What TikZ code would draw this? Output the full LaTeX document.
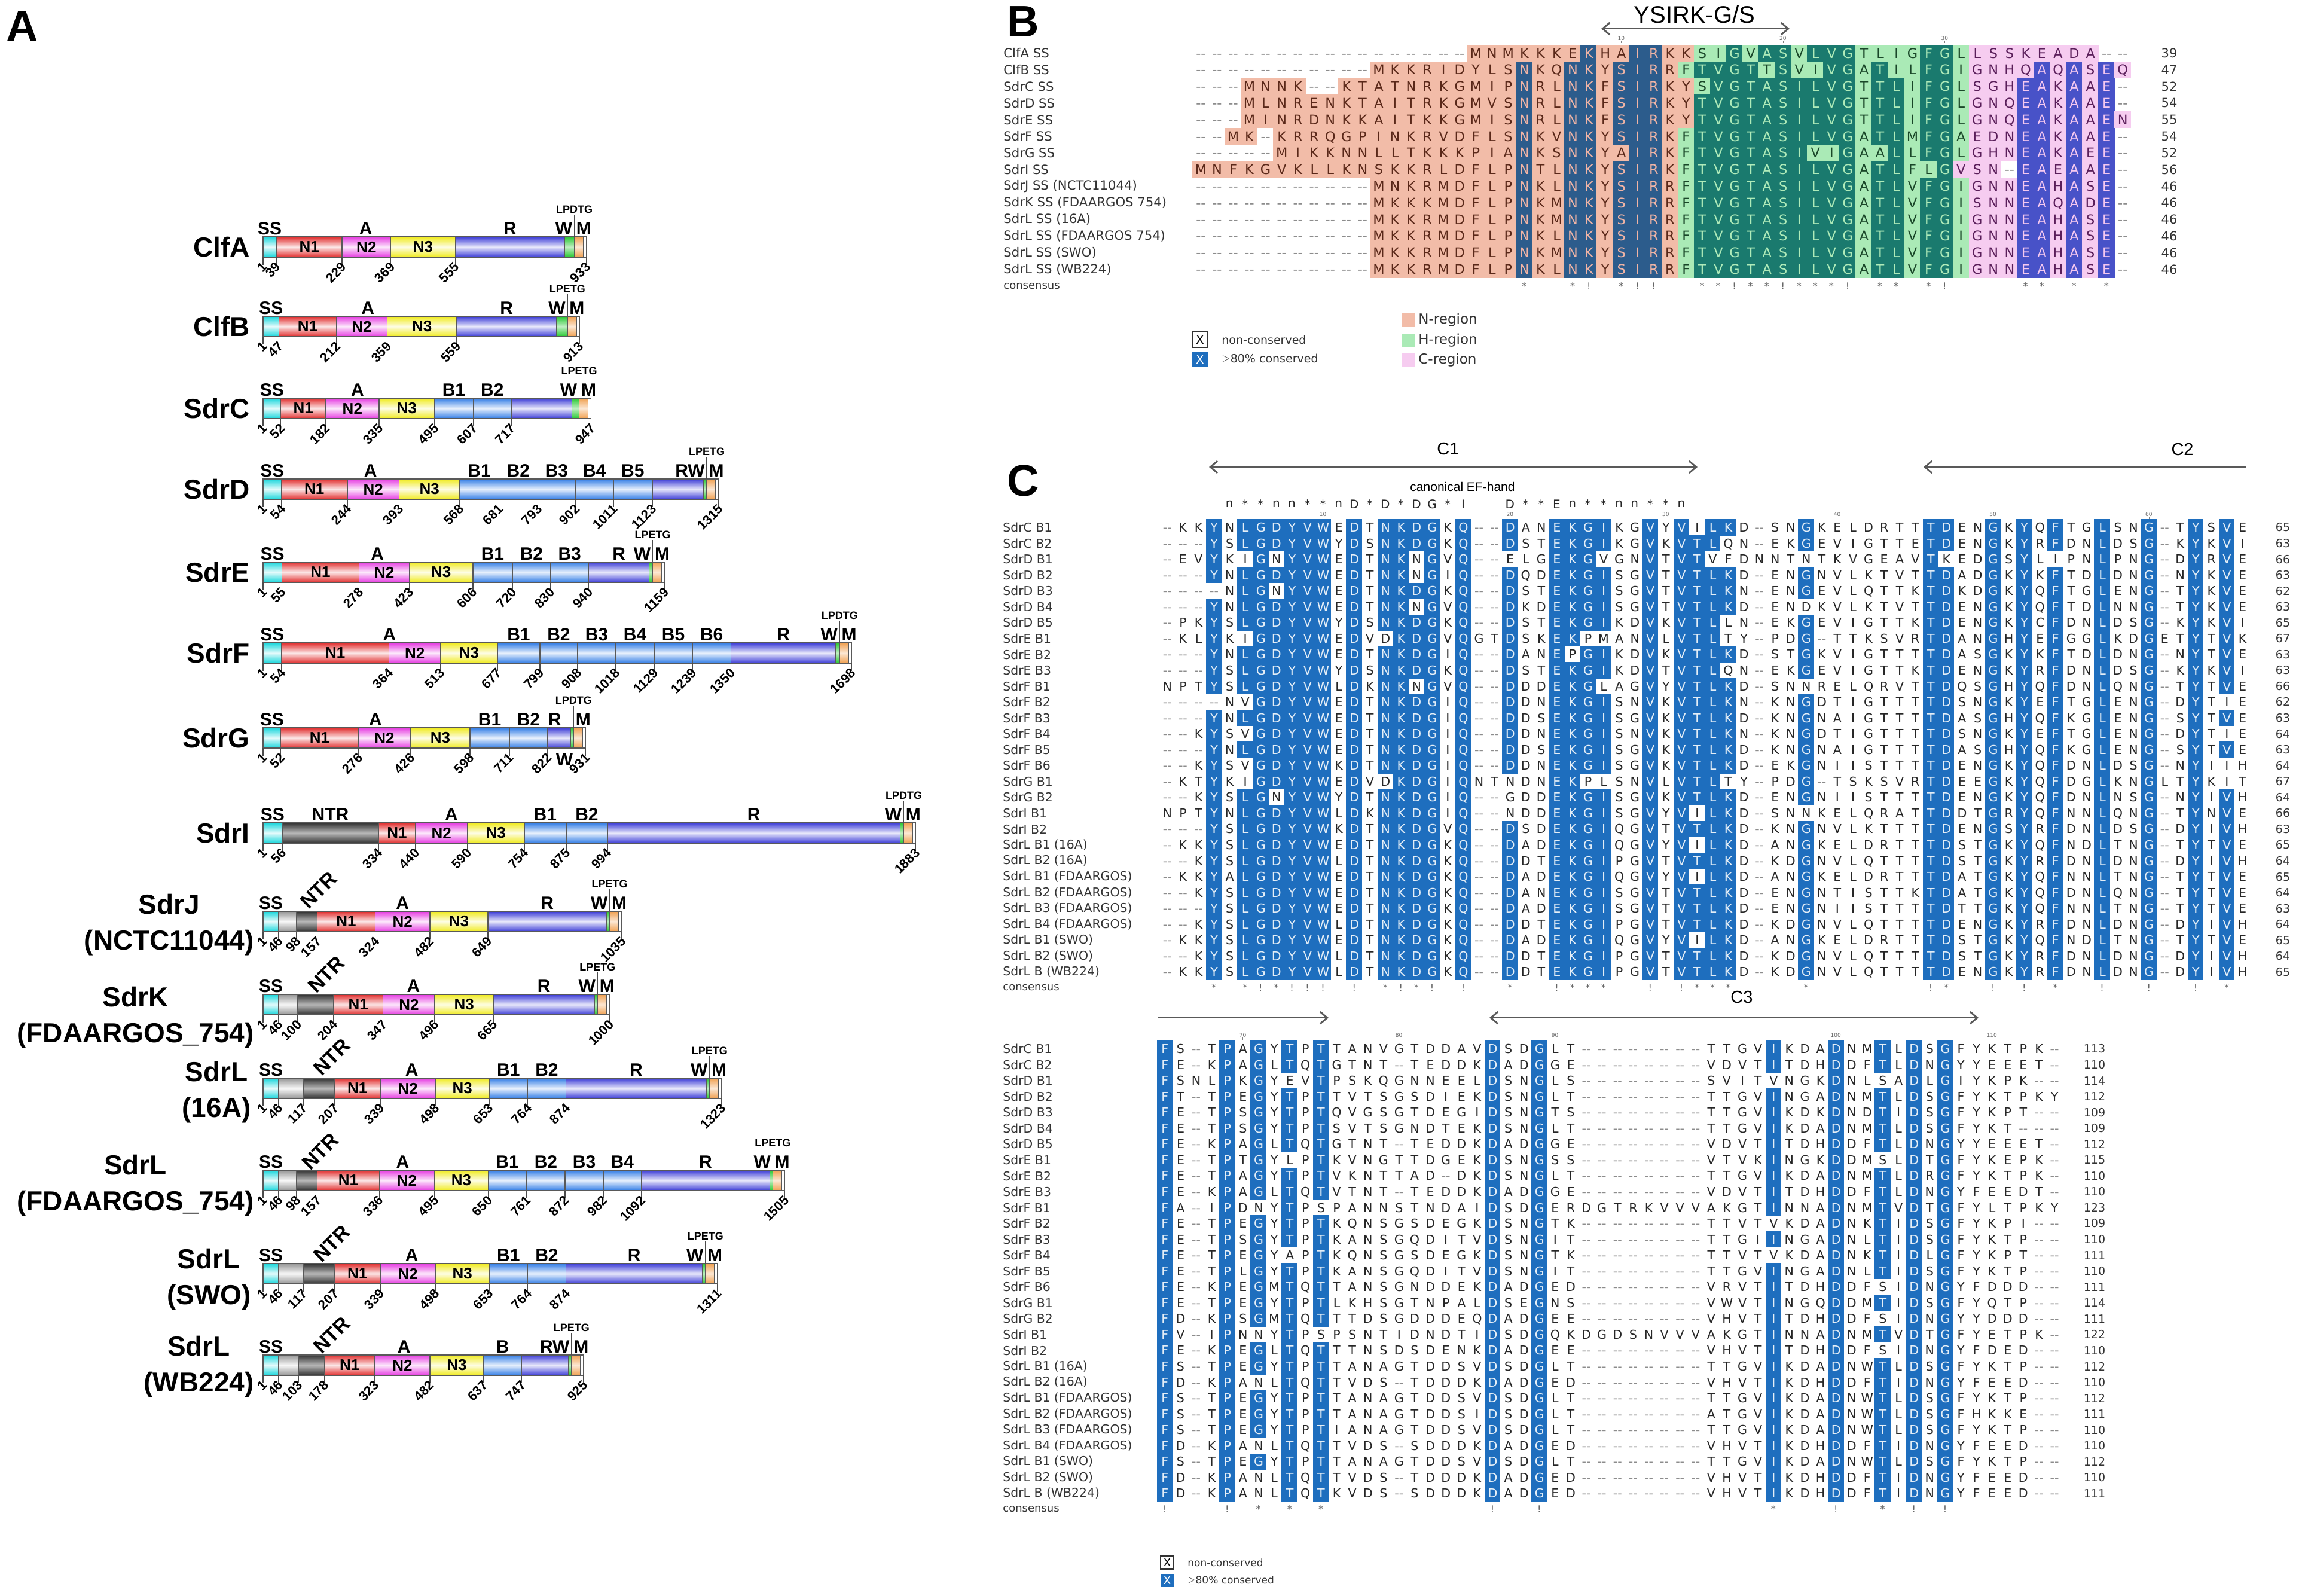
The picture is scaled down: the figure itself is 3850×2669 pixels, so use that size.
\documentclass[tikz,border=0pt]{standalone}
\usepackage{fontspec}
\setmainfont{Liberation Sans}
\newfontfamily\alnfont{DejaVu Sans}
\usetikzlibrary{arrows.meta}

% domain colours (panel A)
\definecolor{ssC}{RGB}{25,215,220}
\definecolor{ntrL}{RGB}{150,150,150}
\definecolor{ntrD}{RGB}{50,50,50}
\definecolor{nOne}{RGB}{225,45,45}
\definecolor{nTwo}{RGB}{230,60,225}
\definecolor{nThree}{RGB}{240,235,30}
\definecolor{bRep}{RGB}{50,125,230}
\definecolor{rRep}{RGB}{60,60,215}
\definecolor{wAnc}{RGB}{40,200,50}
\definecolor{mSpan}{RGB}{240,160,80}
% alignment colours (panels B, C)
\definecolor{cblue}{RGB}{30,110,190}
\colorlet{hiT}{white!88!cblue}
\colorlet{loT}{black!85}
\colorlet{gapT}{black!45}
\definecolor{Nlo}{RGB}{242,188,168}
\definecolor{Nhi}{RGB}{44,92,140}
\definecolor{Hlo}{RGB}{170,234,182}
\definecolor{Hhi}{RGB}{26,122,110}
\definecolor{Clo}{RGB}{246,204,240}
\definecolor{Chi}{RGB}{72,82,200}
\definecolor{NloT}{RGB}{90,40,25}
\definecolor{NhiT}{RGB}{240,180,165}
\definecolor{HloT}{RGB}{25,70,40}
\definecolor{HhiT}{RGB}{175,235,185}
\definecolor{CloT}{RGB}{90,30,90}
\definecolor{ChiT}{RGB}{245,200,240}

\tikzset{
  panel/.style={inner sep=0pt,font=\fontsize{37}{40}\selectfont\bfseries},
  dombox/.style={draw=black!65,line width=0.8pt},
  tickln/.style={draw=black!70,line width=0.8pt},
  ticknum/.style={rotate=45,anchor=east,inner sep=0.5pt,xshift=2pt,yshift=-1pt,font=\fontsize{11}{12}\selectfont\bfseries},
  toplbl/.style={anchor=south,inner sep=0pt,font=\fontsize{15}{16}\selectfont\bfseries},
  inlbl/.style={inner sep=0pt,font=\fontsize{13}{14}\selectfont\bfseries},
  protlbl/.style={anchor=east,align=center,inner sep=0pt,font=\fontsize{23}{30}\selectfont\bfseries},
  motif/.style={anchor=south,inner sep=1pt,font=\fontsize{9}{10}\selectfont\bfseries},
  seqlbl/.style={anchor=west,inner sep=0pt,font=\alnfont\fontsize{10.2}{12}\selectfont,text=black!80},
  seqnum/.style={inner sep=0pt,font=\alnfont\fontsize{9.5}{11}\selectfont,text=black!80},
  cline/.style={anchor=base west,inner sep=0pt,font=\alnfont\fontsize{10.3}{12}\selectfont},
  bline/.style={anchor=base west,inner sep=0pt,font=\alnfont\fontsize{11.2}{13}\selectfont},
  consch/.style={inner sep=0pt,font=\alnfont\fontsize{8}{9}\selectfont,text=black!60},
  rulnum/.style={inner sep=0pt,font=\alnfont\fontsize{4.5}{5}\selectfont,text=black!60},
  efch/.style={inner sep=0pt,font=\alnfont\fontsize{10}{11}\selectfont,text=black!85},
  titlelbl/.style={inner sep=0pt,font=\fontsize{14.5}{16}\selectfont},
  legtxt/.style={anchor=west,inner sep=0pt,font=\alnfont\fontsize{9.5}{11}\selectfont,text=black!80},
  regline/.style={draw=black!65,line width=1.4pt},
  barb/.tip={Straight Barb[length=6pt,width=10pt]}
}

% residue -> x position in panel A
\newcommand\rx[1]{440+0.58*(#1-1)}
% one shaded domain: [mix] y, from, to, colour
\newcommand\domseg[5][12]{\path[dombox,top color=#5,bottom color=#5,middle color=#5!#1!white]
  ({\rx{#3}},{#2-17}) rectangle ({\rx{#4}},{#2+17});}
% R region, W, M and end of the protein
\newcommand\ptail[5]{%
  \path[dombox,top color=rRep,bottom color=rRep,middle color=rRep!12!white] ({\rx{#2}},{#1-17}) rectangle ({\rx{#3}-20-#4},{#1+17});
  \path[dombox,top color=wAnc,bottom color=wAnc,middle color=wAnc!30!white] ({\rx{#3}-20-#4},{#1-17}) rectangle ({\rx{#3}-20},{#1+17});
  \path[dombox,top color=mSpan,bottom color=mSpan,middle color=mSpan!25!white] ({\rx{#3}-20},{#1-17}) rectangle ({\rx{#3}-5},{#1+17});
  \path[dombox,fill=white] ({\rx{#3}-5},{#1-17}) rectangle ({\rx{#3}},{#1+17});
  \draw[tickln] ({\rx{#3}-20},{#1-17}) -- ({\rx{#3}-20},{#1-54}) node[motif] {#5};}
\newcommand\tickmarks[2]{\foreach \rr in {#2}{\draw[tickln] ({\rx{\rr}},{#1+17}) -- ({\rx{\rr}},{#1+30}) node[ticknum] {\rr};}}
\newcommand\toplab[4]{\node[toplbl] at ({(\rx{#2}+\rx{#3})/2},{#1-20}) {#4};}
\newcommand\inlab[4]{\node[inlbl] at ({(\rx{#2}+\rx{#3})/2},{#1}) {#4};}
\newcommand\rlab[4]{\node[toplbl] at ({(\rx{#2}+\rx{#3}-20-#4)/2},{#1-20}) {R};}
\newcommand\wmlab[3]{\node[toplbl,anchor=south east] at ({\rx{#2}-23},{#1-20}) {#3};
  \node[toplbl,anchor=south west] at ({\rx{#2}-17},{#1-20}) {M};}

% alignment rows: shaded cells are filled one by one, letters go in one line per row
\makeatletter
\newcount\alncol
\newtoks\alntoks
\def\aln@cell#1#2{\hbox to \aln@wd{\hss\textcolor{#1}{#2}\hss}}
\def\aln@append#1#2{\alntoks=\expandafter{\the\alntoks\aln@cell{#1}{#2}}}
\newcommand\alnrow[6]{%
  \def\aln@x{#1}\def\aln@y{#2}\def\aln@p{#3}\def\aln@h{#4}\alncol=0 \alntoks={}%
  \dimen@=#3pt \dimen@=0.5\dimen@ \edef\aln@wd{\the\dimen@}%
  \edef\aln@go{\noexpand\aln@step#5\noexpand\@nil#6\noexpand\@nil}\aln@go
  \node[cline] at ({\aln@x-\aln@p/2},{\aln@y+7.5}) {\the\alntoks};}
\def\aln@step#1#2\@nil#3#4\@nil{%
  \advance\alncol by 1
  \if#1-%
    \aln@append{gapT}{--}%
  \else
    \if#1#3%
      \pgfmathsetmacro\aln@cx{\aln@x+(\the\alncol-1)*\aln@p}%
      \fill[cblue] ({\aln@cx-\aln@p/2-0.3},{\aln@y-\aln@h/2-0.3}) rectangle ({\aln@cx+\aln@p/2+0.3},{\aln@y+\aln@h/2+0.3});%
      \aln@append{hiT}{#1}%
    \else
      \aln@append{loT}{#1}%
    \fi
  \fi
  \ifx\relax#2\relax\else\aln@step#2\@nil#4\@nil\fi}
\newcommand\alnBrow[8]{%
  \def\aln@x{#1}\def\aln@y{#2}\def\aln@p{#3}\def\aln@h{#4}\def\aln@H{#7}\def\aln@C{#8}\alncol=0 \alntoks={}%
  \dimen@=#3pt \dimen@=0.5\dimen@ \edef\aln@wd{\the\dimen@}%
  \edef\aln@go{\noexpand\alnB@step#5\noexpand\@nil#6\noexpand\@nil}\aln@go
  \node[bline] at ({\aln@x-\aln@p/2},{\aln@y+8.2}) {\the\alntoks};}
\def\alnB@step#1#2\@nil#3#4\@nil{%
  \advance\alncol by 1
  \ifnum\alncol<\aln@H\relax\def\aln@r{N}\else\ifnum\alncol<\aln@C\relax\def\aln@r{H}\else\def\aln@r{C}\fi\fi
  \if#1-%
    \aln@append{gapT}{--}%
  \else
    \if#1#3\def\aln@k{hi}\else\def\aln@k{lo}\fi
    \edef\aln@fc{\aln@r\aln@k}\edef\aln@tc{\aln@r\aln@k T}%
    \pgfmathsetmacro\aln@cx{\aln@x+(\the\alncol-1)*\aln@p}%
    \fill[fill=\aln@fc] ({\aln@cx-\aln@p/2-0.3},{\aln@y-\aln@h/2-0.3}) rectangle ({\aln@cx+\aln@p/2+0.3},{\aln@y+\aln@h/2+0.3});%
    \expandafter\aln@append\expandafter{\aln@tc}{#1}%
  \fi
  \ifx\relax#2\relax\else\alnB@step#2\@nil#4\@nil\fi}
\makeatother

\def\consB{....................N..NK.SIR..TVGTASILVG.TL.FG....EA.A.E.}
\def\consTop{...Y.LGDYVW.D.NKDG.Q..D..EKGI..V.VTLK....G.......TD..G.Y.F..L..G..Y.V.}
\def\consBot{F...P.G.T.T..........D..G..............I...D..T.D.G.......}

\newcommand\brow[6]{%
  \pgfmathsetmacro\ry{89+(#1-1)*27.8}%
  \node[seqlbl,font=\alnfont\fontsize{10.6}{12}\selectfont] (bl#1) at (1678,{\ry}) {#2};%
  \alnBrow{2008}{\ry}{27.05}{27.8}{#3}{\consB}{#4}{#5}%
  \node[seqnum,font=\alnfont\fontsize{10.5}{12}\selectfont] (bn#1) at (3628,{\ry}) {#6};}
\newcommand\ctop[4]{%
  \pgfmathsetmacro\ry{882+(#1-1)*26.55}%
  \node[seqlbl] (ctl#1) at (1677,{\ry}) {#2};%
  \alnrow{1952}{\ry}{26.06}{26.55}{#3}{\consTop}%
  \node[seqnum] (ctn#1) at (3818,{\ry}) {#4};}
\newcommand\cbot[4]{%
  \pgfmathsetmacro\ry{1754+(#1-1)*26.55}%
  \node[seqlbl] (cbl#1) at (1677,{\ry}) {#2};%
  \alnrow{1948}{\ry}{26.1}{26.55}{#3}{\consBot}%
  \node[seqnum] (cbn#1) at (3503,{\ry}) {#4};}
\newcommand\consmarks[4]{\foreach \ci/\sy in {#4}{\node[consch] at ({#1+(\ci-1)*#3},{#2}) {\sy};}}
\newcommand\colruler[4]{\foreach \ci/\nn in {#4}{\node[rulnum] at ({#1+(\ci-1)*#3},{#2}) {\nn};
  \draw[black!50,line width=0.3pt] ({#1+(\ci-1)*#3},{#2+4}) -- ({#1+(\ci-1)*#3},{#2+8});}}

\begin{document}
\begin{tikzpicture}[x=0.5pt,y=-0.5pt]
\fill[white] (0,0) rectangle (3850,2669);
\useasboundingbox (0,0) rectangle (3850,2669);

%% ================= A: domain organisation =================
\node[panel] (pA) at (37,44) {A};

% ClfA
\def\yc{413}
\domseg{\yc}{1}{39}{ssC}\domseg{\yc}{39}{229}{nOne}\domseg{\yc}{229}{369}{nTwo}\domseg{\yc}{369}{555}{nThree}
\ptail{\yc}{555}{933}{16}{LPDTG}
\tickmarks{\yc}{1,39,229,369,555,933}
\inlab{\yc}{39}{229}{N1}\inlab{\yc}{229}{369}{N2}\inlab{\yc}{369}{555}{N3}
\toplab{\yc}{1}{39}{SS}\toplab{\yc}{39}{555}{A}\rlab{\yc}{555}{933}{16}\wmlab{\yc}{933}{W}
\node[protlbl] (clfa) at (418,\yc) {ClfA};

% ClfB
\def\yc{546}
\domseg{\yc}{1}{47}{ssC}\domseg{\yc}{47}{212}{nOne}\domseg{\yc}{212}{359}{nTwo}\domseg{\yc}{359}{559}{nThree}
\ptail{\yc}{559}{913}{18}{LPETG}
\tickmarks{\yc}{1,47,212,359,559,913}
\inlab{\yc}{47}{212}{N1}\inlab{\yc}{212}{359}{N2}\inlab{\yc}{359}{559}{N3}
\toplab{\yc}{1}{47}{SS}\toplab{\yc}{47}{559}{A}\rlab{\yc}{559}{913}{18}\wmlab{\yc}{913}{W}
\node[protlbl] (clfb) at (418,\yc) {ClfB};

% SdrC
\def\yc{683}
\domseg{\yc}{1}{52}{ssC}\domseg{\yc}{52}{182}{nOne}\domseg{\yc}{182}{335}{nTwo}\domseg{\yc}{335}{495}{nThree}
\foreach \a/\b/\t in {495/607/B1,607/717/B2}{\domseg{\yc}{\a}{\b}{bRep}\toplab{\yc}{\a}{\b}{\t}}
\ptail{\yc}{717}{947}{12}{LPETG}
\tickmarks{\yc}{1,52,182,335,495,607,717,947}
\inlab{\yc}{52}{182}{N1}\inlab{\yc}{182}{335}{N2}\inlab{\yc}{335}{495}{N3}
\toplab{\yc}{1}{52}{SS}\toplab{\yc}{52}{495}{A}\wmlab{\yc}{947}{W}
\node[protlbl] (sdrc) at (418,\yc) {SdrC};

% SdrD
\def\yc{818}
\domseg{\yc}{1}{54}{ssC}\domseg{\yc}{54}{244}{nOne}\domseg{\yc}{244}{393}{nTwo}\domseg{\yc}{393}{568}{nThree}
\foreach \a/\b/\t in {568/681/B1,681/793/B2,793/902/B3,902/1011/B4,1011/1123/B5}{\domseg{\yc}{\a}{\b}{bRep}\toplab{\yc}{\a}{\b}{\t}}
\ptail{\yc}{1123}{1315}{6}{LPETG}
\tickmarks{\yc}{1,54,244,393,568,681,793,902,1011,1123,1315}
\inlab{\yc}{54}{244}{N1}\inlab{\yc}{244}{393}{N2}\inlab{\yc}{393}{568}{N3}
\toplab{\yc}{1}{54}{SS}\toplab{\yc}{54}{568}{A}\wmlab{\yc}{1315}{RW}
\node[protlbl] (sdrd) at (418,\yc) {SdrD};

% SdrE
\def\yc{957}
\domseg{\yc}{1}{55}{ssC}\domseg{\yc}{55}{278}{nOne}\domseg{\yc}{278}{423}{nTwo}\domseg{\yc}{423}{606}{nThree}
\foreach \a/\b/\t in {606/720/B1,720/830/B2,830/940/B3}{\domseg{\yc}{\a}{\b}{bRep}\toplab{\yc}{\a}{\b}{\t}}
\ptail{\yc}{940}{1159}{6}{LPETG}
\tickmarks{\yc}{1,55,278,423,606,720,830,940,1159}
\inlab{\yc}{55}{278}{N1}\inlab{\yc}{278}{423}{N2}\inlab{\yc}{423}{606}{N3}
\toplab{\yc}{1}{55}{SS}\toplab{\yc}{55}{606}{A}\rlab{\yc}{940}{1159}{6}\wmlab{\yc}{1159}{W}
\node[protlbl] (sdre) at (418,\yc) {SdrE};

% SdrF
\def\yc{1092}
\domseg{\yc}{1}{54}{ssC}\domseg{\yc}{54}{364}{nOne}\domseg{\yc}{364}{513}{nTwo}\domseg{\yc}{513}{677}{nThree}
\foreach \a/\b/\t in {677/799/B1,799/908/B2,908/1018/B3,1018/1129/B4,1129/1239/B5,1239/1350/B6}{\domseg{\yc}{\a}{\b}{bRep}\toplab{\yc}{\a}{\b}{\t}}
\ptail{\yc}{1350}{1698}{6}{LPDTG}
\tickmarks{\yc}{1,54,364,513,677,799,908,1018,1129,1239,1350,1698}
\inlab{\yc}{54}{364}{N1}\inlab{\yc}{364}{513}{N2}\inlab{\yc}{513}{677}{N3}
\toplab{\yc}{1}{54}{SS}\toplab{\yc}{54}{677}{A}\rlab{\yc}{1350}{1698}{6}\wmlab{\yc}{1698}{W}
\node[protlbl] (sdrf) at (418,\yc) {SdrF};

% SdrG
\def\yc{1234}
\domseg{\yc}{1}{52}{ssC}\domseg{\yc}{52}{276}{nOne}\domseg{\yc}{276}{426}{nTwo}\domseg{\yc}{426}{598}{nThree}
\foreach \a/\b/\t in {598/711/B1,711/822/B2}{\domseg{\yc}{\a}{\b}{bRep}\toplab{\yc}{\a}{\b}{\t}}
\ptail{\yc}{822}{931}{5}{LPDTG}
\tickmarks{\yc}{1,52,276,426,598,711,822,931}
\inlab{\yc}{52}{276}{N1}\inlab{\yc}{276}{426}{N2}\inlab{\yc}{426}{598}{N3}
\toplab{\yc}{1}{52}{SS}\toplab{\yc}{52}{598}{A}
\node[toplbl,anchor=south] (sdrgr) at (928,{\yc-20}) {R};
\node[toplbl,anchor=south west] (sdrgm) at ({\rx{931}-17},{\yc-20}) {M};
\node[toplbl,anchor=center] (sdrgw) at (944,{\yc+36}) {W};
\node[protlbl] (sdrg) at (418,\yc) {SdrG};

% SdrI
\def\yc{1393}
\domseg{\yc}{1}{56}{ssC}\domseg[35]{\yc}{56}{334}{ntrD}\domseg{\yc}{334}{440}{nOne}\domseg{\yc}{440}{590}{nTwo}\domseg{\yc}{590}{754}{nThree}
\foreach \a/\b/\t in {754/875/B1,875/994/B2}{\domseg{\yc}{\a}{\b}{bRep}\toplab{\yc}{\a}{\b}{\t}}
\ptail{\yc}{994}{1883}{6}{LPDTG}
\tickmarks{\yc}{1,56,334,440,590,754,875,994,1883}
\inlab{\yc}{334}{440}{N1}\inlab{\yc}{440}{590}{N2}\inlab{\yc}{590}{754}{N3}
\toplab{\yc}{1}{56}{SS}\toplab{\yc}{56}{334}{NTR}\toplab{\yc}{334}{754}{A}\rlab{\yc}{994}{1883}{6}\wmlab{\yc}{1883}{W}
\node[protlbl] (sdri) at (418,\yc) {SdrI};

% SdrJ
\def\yc{1541}
\domseg{\yc}{1}{46}{ssC}\domseg[8]{\yc}{46}{98}{ntrL}\domseg[35]{\yc}{98}{157}{ntrD}
\domseg{\yc}{157}{324}{nOne}\domseg{\yc}{324}{482}{nTwo}\domseg{\yc}{482}{649}{nThree}
\ptail{\yc}{649}{1035}{5}{LPETG}
\tickmarks{\yc}{1,46,98,157,324,482,649,1035}
\inlab{\yc}{157}{324}{N1}\inlab{\yc}{324}{482}{N2}\inlab{\yc}{482}{649}{N3}
\toplab{\yc}{1}{46}{SS}\toplab{\yc}{157}{649}{A}\rlab{\yc}{649}{1035}{5}\wmlab{\yc}{1035}{W}
\node[toplbl,anchor=center,rotate=45,font=\fontsize{17}{18}\selectfont\bfseries] (sdrjn) at (533,{\yc-52}) {NTR};
\node[protlbl] (sdrj) at (425,{\yc+6}) {SdrJ\\(NCTC11044)};

% SdrK
\def\yc{1680}
\domseg{\yc}{1}{46}{ssC}\domseg[8]{\yc}{46}{100}{ntrL}\domseg[35]{\yc}{100}{204}{ntrD}
\domseg{\yc}{204}{347}{nOne}\domseg{\yc}{347}{496}{nTwo}\domseg{\yc}{496}{665}{nThree}
\ptail{\yc}{665}{1000}{5}{LPETG}
\tickmarks{\yc}{1,46,100,204,347,496,665,1000}
\inlab{\yc}{204}{347}{N1}\inlab{\yc}{347}{496}{N2}\inlab{\yc}{496}{665}{N3}
\toplab{\yc}{1}{46}{SS}\toplab{\yc}{204}{665}{A}\rlab{\yc}{665}{1000}{5}\wmlab{\yc}{1000}{W}
\node[toplbl,anchor=center,rotate=45,font=\fontsize{17}{18}\selectfont\bfseries] (sdrkn) at (546,{\yc-50}) {NTR};
\node[protlbl] (sdrk) at (425,{\yc+22}) {SdrK\\(FDAARGOS\_754)};

% SdrL (16A)
\def\yc{1820}
\domseg{\yc}{1}{46}{ssC}\domseg[8]{\yc}{46}{117}{ntrL}\domseg[35]{\yc}{117}{207}{ntrD}
\domseg{\yc}{207}{339}{nOne}\domseg{\yc}{339}{498}{nTwo}\domseg{\yc}{498}{653}{nThree}
\foreach \a/\b/\t in {653/764/B1,764/874/B2}{\domseg{\yc}{\a}{\b}{bRep}\toplab{\yc}{\a}{\b}{\t}}
\ptail{\yc}{874}{1323}{5}{LPETG}
\tickmarks{\yc}{1,46,117,207,339,498,653,764,874,1323}
\inlab{\yc}{207}{339}{N1}\inlab{\yc}{339}{498}{N2}\inlab{\yc}{498}{653}{N3}
\toplab{\yc}{1}{46}{SS}\toplab{\yc}{207}{653}{A}\rlab{\yc}{874}{1323}{5}\wmlab{\yc}{1323}{W}
\node[toplbl,anchor=center,rotate=45,font=\fontsize{17}{18}\selectfont\bfseries] (sdrlan) at (555,{\yc-52}) {NTR};
\node[protlbl] (sdrla) at (420,{\yc+7}) {SdrL\\(16A)};

% SdrL (FDAARGOS_754)
\def\yc{1974}
\domseg{\yc}{1}{46}{ssC}\domseg[8]{\yc}{46}{98}{ntrL}\domseg[35]{\yc}{98}{157}{ntrD}
\domseg{\yc}{157}{336}{nOne}\domseg{\yc}{336}{495}{nTwo}\domseg{\yc}{495}{650}{nThree}
\foreach \a/\b/\t in {650/761/B1,761/872/B2,872/982/B3,982/1092/B4}{\domseg{\yc}{\a}{\b}{bRep}\toplab{\yc}{\a}{\b}{\t}}
\ptail{\yc}{1092}{1505}{5}{LPETG}
\tickmarks{\yc}{1,46,98,157,336,495,650,761,872,982,1092,1505}
\inlab{\yc}{157}{336}{N1}\inlab{\yc}{336}{495}{N2}\inlab{\yc}{495}{650}{N3}
\toplab{\yc}{1}{46}{SS}\toplab{\yc}{157}{650}{A}\rlab{\yc}{1092}{1505}{5}\wmlab{\yc}{1505}{W}
\node[toplbl,anchor=center,rotate=45,font=\fontsize{17}{18}\selectfont\bfseries] (sdrlbn) at (536,{\yc-48}) {NTR};
\node[protlbl] (sdrlb) at (425,{\yc+9}) {SdrL\\(FDAARGOS\_754)};

% SdrL (SWO)
\def\yc{2130}
\domseg{\yc}{1}{46}{ssC}\domseg[8]{\yc}{46}{117}{ntrL}\domseg[35]{\yc}{117}{207}{ntrD}
\domseg{\yc}{207}{339}{nOne}\domseg{\yc}{339}{498}{nTwo}\domseg{\yc}{498}{653}{nThree}
\foreach \a/\b/\t in {653/764/B1,764/874/B2}{\domseg{\yc}{\a}{\b}{bRep}\toplab{\yc}{\a}{\b}{\t}}
\ptail{\yc}{874}{1311}{5}{LPETG}
\tickmarks{\yc}{1,46,117,207,339,498,653,764,874,1311}
\inlab{\yc}{207}{339}{N1}\inlab{\yc}{339}{498}{N2}\inlab{\yc}{498}{653}{N3}
\toplab{\yc}{1}{46}{SS}\toplab{\yc}{207}{653}{A}\rlab{\yc}{874}{1311}{5}\wmlab{\yc}{1311}{W}
\node[toplbl,anchor=center,rotate=45,font=\fontsize{17}{18}\selectfont\bfseries] (sdrlcn) at (555,{\yc-50}) {NTR};
\node[protlbl] (sdrlc) at (420,{\yc+10}) {SdrL\\(SWO)};

% SdrL (WB224)
\def\yc{2283}
\domseg{\yc}{1}{46}{ssC}\domseg[8]{\yc}{46}{103}{ntrL}\domseg[35]{\yc}{103}{178}{ntrD}
\domseg{\yc}{178}{323}{nOne}\domseg{\yc}{323}{482}{nTwo}\domseg{\yc}{482}{637}{nThree}
\domseg{\yc}{637}{747}{bRep}\toplab{\yc}{637}{747}{B}
\ptail{\yc}{747}{925}{5}{LPETG}
\tickmarks{\yc}{1,46,103,178,323,482,637,747,925}
\inlab{\yc}{178}{323}{N1}\inlab{\yc}{323}{482}{N2}\inlab{\yc}{482}{637}{N3}
\toplab{\yc}{1}{46}{SS}\toplab{\yc}{178}{637}{A}\wmlab{\yc}{925}{RW}
\node[toplbl,anchor=center,rotate=45,font=\fontsize{17}{18}\selectfont\bfseries] (sdrldn) at (555,{\yc-50}) {NTR};
\node[protlbl] (sdrld) at (425,{\yc+3}) {SdrL\\(WB224)};

%% ================= B: signal sequences =================
\node[panel] (pB) at (1711,36) {B};
\node[titlelbl,font=\fontsize{20}{22}\selectfont] (ysirk) at (2834,24) {YSIRK-G/S};
\coordinate (ysl) at (2678,48);
\coordinate (ysr) at (2993,48);
\draw[regline,barb-barb] (ysl) -- (ysr);
\colruler{2008}{64}{27.05}{27/10,37/20,47/30}

\brow{1}{ClfA SS}{-----------------MNMKKKEKHAIRKKSIGVASVLVGTLIGFGLLSSKEADA--}{32}{49}{39}
\brow{2}{ClfB SS}{-----------MKKRIDYLSNKQNKYSIRRFTVGTTSVIVGATILFGIGNHQAQASEQ}{31}{49}{47}
\brow{3}{SdrC SS}{---MNNK--KTATNRKGMIPNRLNKFSIRKYSVGTASILVGTTLIFGLSGHEAKAAE-}{32}{49}{52}
\brow{4}{SdrD SS}{---MLNRENKTAITRKGMVSNRLNKFSIRKYTVGTASILVGTTLIFGLGNQEAKAAE-}{32}{49}{54}
\brow{5}{SdrE SS}{---MINRDNKKAITKKGMISNRLNKFSIRKYTVGTASILVGTTLIFGLGNQEAKAAEN}{32}{49}{55}
\brow{6}{SdrF SS}{--MK-KRRQGPINKRVDFLSNKVNKYSIRKFTVGTASILVGATLMFGAEDNEAKAAE-}{31}{49}{54}
\brow{7}{SdrG SS}{-----MIKKNNLLTKKKPIANKSNKYAIRKFTVGTASIVIGAALLFGLGHNEAKAEE-}{31}{49}{52}
\brow{8}{SdrI SS}{MNFKGVKLLKNSKKRLDFLPNTLNKYSIRKFTVGTASILVGATLFLGVSN-EAEAAE-}{31}{48}{56}
\brow{9}{SdrJ SS (NCTC11044)}{-----------MNKRMDFLPNKLNKYSIRRFTVGTASILVGATLVFGIGNNEAHASE-}{31}{49}{46}
\brow{10}{SdrK SS (FDAARGOS 754)}{-----------MKKKMDFLPNKMNKYSIRRFTVGTASILVGATLVFGISNNEAQADE-}{31}{49}{46}
\brow{11}{SdrL SS (16A)}{-----------MKKRMDFLPNKMNKYSIRRFTVGTASILVGATLVFGIGNNEAHASE-}{31}{49}{46}
\brow{12}{SdrL SS (FDAARGOS 754)}{-----------MKKRMDFLPNKLNKYSIRRFTVGTASILVGATLVFGIGNNEAHASE-}{31}{49}{46}
\brow{13}{SdrL SS (SWO)}{-----------MKKRMDFLPNKMNKYSIRRFTVGTASILVGATLVFGIGNNEAHASE-}{31}{49}{46}
\brow{14}{SdrL SS (WB224)}{-----------MKKRMDFLPNKLNKYSIRRFTVGTASILVGATLVFGIGNNEAHASE-}{31}{49}{46}
\node[seqlbl,font=\alnfont\fontsize{9}{10}\selectfont] (bcons) at (1678,479) {consensus};
\consmarks{2008}{479}{27.05}{21/*,24/*,25/!,27/*,28/!,29/!,32/*,33/*,34/!,35/*,36/*,37/!,38/*,39/*,40/*,41/!,43/*,44/*,46/*,47/!,52/*,53/*,55/*,57/*}

% legend B
\node[draw=black!80,line width=0.6pt,fill=white,minimum width=13pt,minimum height=13pt,inner sep=0pt,font=\alnfont\fontsize{10}{11}\selectfont] (bkx1) at (2007,568) {X};
\node[fill=cblue,minimum width=13pt,minimum height=13pt,inner sep=0pt,text=white,font=\alnfont\fontsize{10}{11}\selectfont] (bkx2) at (2007,601) {X};
\node[legtxt] (bkt1) at (2043,568) {non-conserved};
\node[legtxt] (bkt2) at (2043,601) {$\geq$80\% conserved};
\fill[Nlo] (2344,524) rectangle (2366,547);
\fill[Hlo] (2344,558) rectangle (2366,580);
\fill[Clo] (2344,591) rectangle (2366,613);
\node[legtxt,font=\alnfont\fontsize{11.5}{13}\selectfont] (regn) at (2372,535) {N-region};
\node[legtxt,font=\alnfont\fontsize{11.5}{13}\selectfont] (regh) at (2372,569) {H-region};
\node[legtxt,font=\alnfont\fontsize{11.5}{13}\selectfont] (regc) at (2372,602) {C-region};

%% ================= C: B-repeat alignment =================
\node[panel] (pC) at (1711,804) {C};
\node[titlelbl] (tc1) at (2422,751) {C1};
\node[titlelbl] (tc2) at (3650,752) {C2};
\node[titlelbl] (tc3) at (2913,1668) {C3};
\coordinate (c1l) at (2022,781); \coordinate (c1r) at (2839,781);
\coordinate (c2l) at (3217,781); \coordinate (c2r) at (3756,781);
\coordinate (c2bl) at (1936,1702); \coordinate (c2br) at (2222,1702);
\coordinate (c3l) at (2491,1702); \coordinate (c3r) at (3309,1702);
\draw[regline,barb-barb] (c1l) -- (c1r);
\draw[regline,barb-] (c2l) -- (c2r);
\draw[regline,-barb] (c2bl) -- (c2br);
\draw[regline,barb-barb] (c3l) -- (c3r);
\node[titlelbl,font=\fontsize{10.5}{12}\selectfont] (efh) at (2446,814) {canonical EF-hand};
\foreach \ci/\sy in {5/n,6/*,7/*,8/n,9/n,10/*,11/*,12/n,13/D,14/*,15/D,16/*,17/D,18/G,19/*,20/I,23/D,24/*,25/*,26/E,27/n,28/*,29/*,30/n,31/n,32/*,33/*,34/n}
  {\node[efch] at ({1952+(\ci-1)*26.06},843) {\sy};}
\colruler{1952}{860}{26.06}{11/10,23/20,33/30,44/40,54/50,64/60}

\ctop{1}{SdrC B1}{-KKYNLGDYVWEDTNKDGKQ--DANEKGIKGVYVILKD-SNGKELDRTTTDENGKYQFTGLSNG-TYSVE}{65}
\ctop{2}{SdrC B2}{---YSLGDYVWYDSNKDGKQ--DSTEKGIKGVKVTLQN-EKGEVIGTTETDENGKYRFDNLDSG-KYKVI}{63}
\ctop{3}{SdrD B1}{-EVYKIGNYVWEDTNKNGVQ--ELGEKGVGNVTVTVFDNNTNTKVGEAVTKEDGSYLIPNLPNG-DYRVE}{66}
\ctop{4}{SdrD B2}{---YNLGDYVWEDTNKNGIQ--DQDEKGISGVTVTLKD-ENGNVLKTVTTDADGKYKFTDLDNG-NYKVE}{63}
\ctop{5}{SdrD B3}{----NLGNYVWEDTNKDGKQ--DSTEKGISGVTVTLKN-ENGEVLQTTKTDKDGKYQFTGLENG-TYKVE}{62}
\ctop{6}{SdrD B4}{---YNLGDYVWEDTNKNGVQ--DKDEKGISGVTVTLKD-ENDKVLKTVTTDENGKYQFTDLNNG-TYKVE}{63}
\ctop{7}{SdrD B5}{-PKYSLGDYVWYDSNKDGKQ--DSTEKGIKDVKVTLLN-EKGEVIGTTKTDENGKYCFDNLDSG-KYKVI}{65}
\ctop{8}{SdrE B1}{-KLYKIGDYVWEDVDKDGVQGTDSKEKPMANVLVTLTY-PDG-TTKSVRTDANGHYEFGGLKDGETYTVK}{67}
\ctop{9}{SdrE B2}{---YNLGDYVWEDTNKDGIQ--DANEPGIKDVKVTLKD-STGKVIGTTTTDASGKYKFTDLDNG-NYTVE}{63}
\ctop{10}{SdrE B3}{---YSLGDYVWYDSNKDGKQ--DSTEKGIKDVTVTLQN-EKGEVIGTTKTDENGKYRFDNLDSG-KYKVI}{63}
\ctop{11}{SdrF B1}{NPTYSLGDYVWLDKNKNGVQ--DDDEKGLAGVYVTLKD-SNNRELQRVTTDQSGHYQFDNLQNG-TYTVE}{66}
\ctop{12}{SdrF B2}{----NVGDYVWEDTNKDGIQ--DDNEKGISNVKVTLKN-KNGDTIGTTTTDSNGKYEFTGLENG-DYTIE}{62}
\ctop{13}{SdrF B3}{---YNLGDYVWEDTNKDGIQ--DDSEKGISGVKVTLKD-KNGNAIGTTTTDASGHYQFKGLENG-SYTVE}{63}
\ctop{14}{SdrF B4}{--KYSVGDYVWEDTNKDGIQ--DDNEKGISNVKVTLKN-KNGDTIGTTTTDSNGKYEFTGLENG-DYTIE}{64}
\ctop{15}{SdrF B5}{---YNLGDYVWEDTNKDGIQ--DDSEKGISGVKVTLKD-KNGNAIGTTTTDASGHYQFKGLENG-SYTVE}{63}
\ctop{16}{SdrF B6}{--KYSVGDYVWKDTNKDGIQ--DDNEKGISGVKVTLKD-EKGNIISTTTTDENGKYQFDNLDSG-NYIIH}{64}
\ctop{17}{SdrG B1}{-KTYKIGDYVWEDVDKDGIQNTNDNEKPLSNVLVTLTY-PDG-TSKSVRTDEEGKYQFDGLKNGLTYKIT}{67}
\ctop{18}{SdrG B2}{--KYSLGNYVWYDTNKDGIQ--GDDEKGISGVKVTLKD-ENGNIISTTTTDENGKYQFDNLNSG-NYIVH}{64}
\ctop{19}{SdrI B1}{NPTYNLGDYVWLDKNKDGIQ--NDDEKGISGVYVILKD-SNNKELQRATTDDTGRYQFNNLQNG-TYNVE}{66}
\ctop{20}{SdrI B2}{---YSLGDYVWKDTNKDGVQ--DSDEKGIQGVTVTLKD-KNGNVLKTTTTDENGSYRFDNLDSG-DYIVH}{63}
\ctop{21}{SdrL B1 (16A)}{-KKYSLGDYVWEDTNKDGKQ--DADEKGIQGVYVILKD-ANGKELDRTTTDSTGKYQFNDLTNG-TYTVE}{65}
\ctop{22}{SdrL B2 (16A)}{--KYSLGDYVWLDTNKDGKQ--DDTEKGIPGVTVTLKD-KDGNVLQTTTTDSTGKYRFDNLDNG-DYIVH}{64}
\ctop{23}{SdrL B1 (FDAARGOS)}{-KKYALGDYVWEDTNKDGKQ--DADEKGIQGVYVILKD-ANGKELDRTTTDATGKYQFNNLTNG-TYTVE}{65}
\ctop{24}{SdrL B2 (FDAARGOS)}{--KYSLGDYVWEDTNKDGKQ--DANEKGISGVTVTLKD-ENGNTISTTKTDATGKYQFDNLQNG-TYTVE}{64}
\ctop{25}{SdrL B3 (FDAARGOS)}{---YSLGDYVWEDTNKDGKQ--DADEKGISGVTVTLKD-ENGNIISTTTTDTTGKYQFNNLTNG-TYTVE}{63}
\ctop{26}{SdrL B4 (FDAARGOS)}{--KYSLGDYVWLDTNKDGKQ--DDTEKGIPGVTVTLKD-KDGNVLQTTTTDENGKYRFDNLDNG-DYIVH}{64}
\ctop{27}{SdrL B1 (SWO)}{-KKYSLGDYVWEDTNKDGKQ--DADEKGIQGVYVILKD-ANGKELDRTTTDSTGKYQFNDLTNG-TYTVE}{65}
\ctop{28}{SdrL B2 (SWO)}{--KYSLGDYVWLDTNKDGKQ--DDTEKGIPGVTVTLKD-KDGNVLQTTTTDSTGKYRFDNLDNG-DYIVH}{64}
\ctop{29}{SdrL B (WB224)}{-KKYSLGDYVWLDTNKDGKQ--DDTEKGIPGVTVTLKD-KDGNVLQTTTTDENGKYRFDNLDNG-DYIVH}{65}
\node[seqlbl,font=\alnfont\fontsize{9}{10}\selectfont] (ctcons) at (1677,1652) {consensus};
\consmarks{1952}{1652}{26.06}{4/*,6/*,7/!,8/*,9/!,10/!,11/!,13/!,15/*,16/!,17/*,18/!,20/!,23/*,26/!,27/*,28/*,29/*,32/!,34/!,35/*,36/*,37/*,42/*,50/!,51/*,54/!,56/!,58/*,61/!,64/!,67/!,69/*}

% second block
\colruler{1948}{1731}{26.1}{6/70,16/80,26/90,44/100,54/110}
\cbot{1}{SdrC B1}{FS-TPAGYTPTTANVGTDDAVDSDGLT--------TTGVIKDADNMTLDSGFYKTPK-}{113}
\cbot{2}{SdrC B2}{FE-KPAGLTQTGTNT-TEDDKDADGGE--------VDVTITDHDDFTLDNGYYEEET-}{110}
\cbot{3}{SdrD B1}{FSNLPKGYEVTPSKQGNNEELDSNGLS--------SVITVNGKDNLSADLGIYKPK--}{114}
\cbot{4}{SdrD B2}{FT-TPEGYTPTTVTSGSDIEKDSNGLT--------TTGVINGADNMTLDSGFYKTPKY}{112}
\cbot{5}{SdrD B3}{FE-TPSGYTPTQVGSGTDEGIDSNGTS--------TTGVIKDKDNDTIDSGFYKPT--}{109}
\cbot{6}{SdrD B4}{FE-TPSGYTPTSVTSGNDTEKDSNGLT--------TTGVIKDADNMTLDSGFYKT---}{109}
\cbot{7}{SdrD B5}{FE-KPAGLTQTGTNT-TEDDKDADGGE--------VDVTITDHDDFTLDNGYYEEET-}{112}
\cbot{8}{SdrE B1}{FE-TPTGYLPTKVNGTTDGEKDSNGSS--------VTVKINGKDDMSLDTGFYKEPK-}{115}
\cbot{9}{SdrE B2}{FE-TPAGYTPTVKNTTAD-DKDSNGLT--------TTGVIKDADNMTLDRGFYKTPK-}{110}
\cbot{10}{SdrE B3}{FE-KPAGLTQTVTNT-TEDDKDADGGE--------VDVTITDHDDFTLDNGYFEEDT-}{110}
\cbot{11}{SdrF B1}{FA-IPDNYTPSPANNSTNDAIDSDGERDGTRKVVVAKGTINNADNMTVDTGFYLTPKY}{123}
\cbot{12}{SdrF B2}{FE-TPEGYTPTKQNSGSDEGKDSNGTK--------TTVTVKDADNKTIDSGFYKPI--}{109}
\cbot{13}{SdrF B3}{FE-TPSGYTPTKANSGQDITVDSNGIT--------TTGIINGADNLTIDSGFYKTP--}{110}
\cbot{14}{SdrF B4}{FE-TPEGYAPTKQNSGSDEGKDSNGTK--------TTVTVKDADNKTIDLGFYKPT--}{111}
\cbot{15}{SdrF B5}{FE-TPLGYTPTKANSGQDITVDSNGIT--------TTGVINGADNLTIDSGFYKTP--}{110}
\cbot{16}{SdrF B6}{FE-KPEGMTQTTANSGNDDEKDADGED--------VRVTITDHDDFSIDNGYFDDD--}{111}
\cbot{17}{SdrG B1}{FE-TPEGYTPTLKHSGTNPALDSEGNS--------VWVTINGQDDMTIDSGFYQTP--}{114}
\cbot{18}{SdrG B2}{FD-KPSGMTQTTTDSGDDDEQDADGEE--------VHVTITDHDDFSIDNGYYDDD--}{111}
\cbot{19}{SdrI B1}{FV-IPNNYTPSPSNTIDNDTIDSDGQKDGDSNVVVAKGTINNADNMTVDTGFYETPK-}{122}
\cbot{20}{SdrI B2}{FE-KPEGLTQTTTNSDSDENKDADGEE--------VHVTITDHDDFSIDNGYFDED--}{110}
\cbot{21}{SdrL B1 (16A)}{FS-TPEGYTPTTANAGTDDSVDSDGLT--------TTGVIKDADNWTLDSGFYKTP--}{112}
\cbot{22}{SdrL B2 (16A)}{FD-KPANLTQTTVDS-TDDDKDADGED--------VHVTIKDHDDFTIDNGYFEED--}{110}
\cbot{23}{SdrL B1 (FDAARGOS)}{FS-TPEGYTPTTANAGTDDSVDSDGLT--------TTGVIKDADNWTLDSGFYKTP--}{112}
\cbot{24}{SdrL B2 (FDAARGOS)}{FS-TPEGYTPTTANAGTDDSIDSDGLT--------ATGVIKDADNWTLDSGFHKKE--}{111}
\cbot{25}{SdrL B3 (FDAARGOS)}{FS-TPEGYTPTIANAGTDDSVDSDGLT--------TTGVIKDADNWTLDSGFYKTP--}{110}
\cbot{26}{SdrL B4 (FDAARGOS)}{FD-KPANLTQTTVDS-SDDDKDADGED--------VHVTIKDHDDFTIDNGYFEED--}{110}
\cbot{27}{SdrL B1 (SWO)}{FS-TPEGYTPTTANAGTDDSVDSDGLT--------TTGVIKDADNWTLDSGFYKTP--}{112}
\cbot{28}{SdrL B2 (SWO)}{FD-KPANLTQTTVDS-TDDDKDADGED--------VHVTIKDHDDFTIDNGYFEED--}{110}
\cbot{29}{SdrL B (WB224)}{FD-KPANLTQTKVDS-SDDDKDADGED--------VHVTIKDHDDFTIDNGYFEED--}{111}
\node[seqlbl,font=\alnfont\fontsize{9}{10}\selectfont] (cbcons) at (1677,2524) {consensus};
\consmarks{1948}{2524}{26.1}{1/!,5/!,7/*,9/*,11/*,22/!,25/!,40/*,44/!,47/*,49/!,51/!}

% legend C
\node[draw=black!80,line width=0.6pt,fill=white,minimum width=11pt,minimum height=11pt,inner sep=0pt,font=\alnfont\fontsize{9}{10}\selectfont] (ckx1) at (1952,2613) {X};
\node[fill=cblue,minimum width=11pt,minimum height=11pt,inner sep=0pt,text=white,font=\alnfont\fontsize{9}{10}\selectfont] (ckx2) at (1952,2643) {X};
\node[legtxt,font=\alnfont\fontsize{8.5}{10}\selectfont] (ckt1) at (1986,2613) {non-conserved};
\node[legtxt,font=\alnfont\fontsize{8.5}{10}\selectfont] (ckt2) at (1986,2643) {$\geq$80\% conserved};
\end{tikzpicture}
\end{document}
